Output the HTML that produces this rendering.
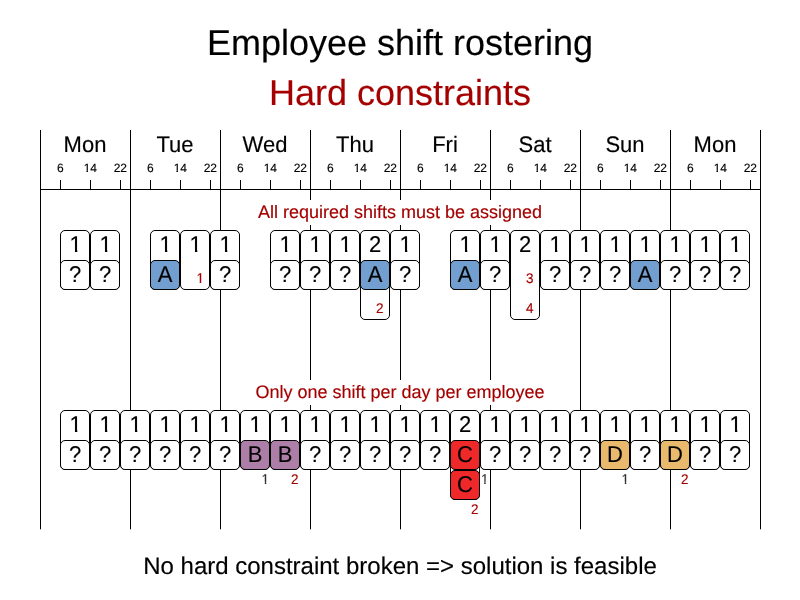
<!DOCTYPE html>
<html lang="en"><head><meta charset="utf-8"><title>Employee shift rostering - Hard constraints</title>
<style>html,body{margin:0;padding:0;background:#fff}svg{display:block}text{font-family:"Liberation Sans",sans-serif;text-rendering:geometricPrecision;stroke-width:0.15px;paint-order:stroke fill}.o22{clip-path:url(#one22)}.o13{clip-path:url(#one13)}.o14{clip-path:url(#one14)}</style>
</head><body>
<svg width="800" height="600" viewBox="0 0 800 600">
<defs>
<clipPath id="one22"><rect x="-20" y="-30" width="40" height="27.66"/><rect x="-0.78" y="-30" width="2.34" height="31"/></clipPath>
<clipPath id="one13"><rect x="-20" y="-30" width="40" height="28.29"/><rect x="-4.31" y="-30" width="1.59" height="31"/></clipPath>
<clipPath id="one14"><rect x="-20" y="-30" width="40" height="28.5"/><rect x="-3.85" y="-30" width="1.46" height="31"/><rect x="0" y="-30" width="20" height="31"/></clipPath>
</defs>
<rect width="800" height="600" fill="#fff"/>
<g transform="translate(400 55.3)"><text font-size="36" text-anchor="middle" stroke="#000">Employee shift rostering</text></g>
<g transform="translate(400 105.3)"><text font-size="36" text-anchor="middle" fill="#a40000" stroke="#a40000">Hard constraints</text></g>
<g stroke="#000" stroke-width="1" fill="none">
<path d="M40.5 130V529.3"/>
<path d="M130.5 130V529.3"/>
<path d="M220.5 130V529.3"/>
<path d="M310.5 130V529.3"/>
<path d="M400.5 130V529.3"/>
<path d="M490.5 130V529.3"/>
<path d="M580.5 130V529.3"/>
<path d="M670.5 130V529.3"/>
<path d="M760.5 130V529.3"/>
<path d="M40 189.5H761"/>
<path d="M60.5 180V189.5"/>
<path d="M90.5 180V189.5"/>
<path d="M120.5 180V189.5"/>
<path d="M150.5 180V189.5"/>
<path d="M180.5 180V189.5"/>
<path d="M210.5 180V189.5"/>
<path d="M240.5 180V189.5"/>
<path d="M270.5 180V189.5"/>
<path d="M300.5 180V189.5"/>
<path d="M330.5 180V189.5"/>
<path d="M360.5 180V189.5"/>
<path d="M390.5 180V189.5"/>
<path d="M420.5 180V189.5"/>
<path d="M450.5 180V189.5"/>
<path d="M480.5 180V189.5"/>
<path d="M510.5 180V189.5"/>
<path d="M540.5 180V189.5"/>
<path d="M570.5 180V189.5"/>
<path d="M600.5 180V189.5"/>
<path d="M630.5 180V189.5"/>
<path d="M660.5 180V189.5"/>
<path d="M690.5 180V189.5"/>
<path d="M720.5 180V189.5"/>
<path d="M750.5 180V189.5"/>
</g>
<g transform="translate(85 152) scale(1 1.02)"><text font-size="22" text-anchor="middle" stroke="#000">Mon</text></g>
<g transform="translate(60.3 172)"><text font-size="12" text-anchor="middle" stroke="#000">6</text></g>
<g transform="translate(90.3 172)"><text class="o14" font-size="12" text-anchor="middle" stroke="#000">14</text></g>
<g transform="translate(120.3 172)"><text font-size="12" text-anchor="middle" stroke="#000">22</text></g>
<g transform="translate(175 152) scale(1 1.02)"><text font-size="22" text-anchor="middle" stroke="#000">Tue</text></g>
<g transform="translate(150.3 172)"><text font-size="12" text-anchor="middle" stroke="#000">6</text></g>
<g transform="translate(180.3 172)"><text class="o14" font-size="12" text-anchor="middle" stroke="#000">14</text></g>
<g transform="translate(210.3 172)"><text font-size="12" text-anchor="middle" stroke="#000">22</text></g>
<g transform="translate(265 152) scale(1 1.02)"><text font-size="22" text-anchor="middle" stroke="#000">Wed</text></g>
<g transform="translate(240.3 172)"><text font-size="12" text-anchor="middle" stroke="#000">6</text></g>
<g transform="translate(270.3 172)"><text class="o14" font-size="12" text-anchor="middle" stroke="#000">14</text></g>
<g transform="translate(300.3 172)"><text font-size="12" text-anchor="middle" stroke="#000">22</text></g>
<g transform="translate(355 152) scale(1 1.02)"><text font-size="22" text-anchor="middle" stroke="#000">Thu</text></g>
<g transform="translate(330.3 172)"><text font-size="12" text-anchor="middle" stroke="#000">6</text></g>
<g transform="translate(360.3 172)"><text class="o14" font-size="12" text-anchor="middle" stroke="#000">14</text></g>
<g transform="translate(390.3 172)"><text font-size="12" text-anchor="middle" stroke="#000">22</text></g>
<g transform="translate(445 152) scale(1 1.02)"><text font-size="22" text-anchor="middle" stroke="#000">Fri</text></g>
<g transform="translate(420.3 172)"><text font-size="12" text-anchor="middle" stroke="#000">6</text></g>
<g transform="translate(450.3 172)"><text class="o14" font-size="12" text-anchor="middle" stroke="#000">14</text></g>
<g transform="translate(480.3 172)"><text font-size="12" text-anchor="middle" stroke="#000">22</text></g>
<g transform="translate(535 152) scale(1 1.02)"><text font-size="22" text-anchor="middle" stroke="#000">Sat</text></g>
<g transform="translate(510.3 172)"><text font-size="12" text-anchor="middle" stroke="#000">6</text></g>
<g transform="translate(540.3 172)"><text class="o14" font-size="12" text-anchor="middle" stroke="#000">14</text></g>
<g transform="translate(570.3 172)"><text font-size="12" text-anchor="middle" stroke="#000">22</text></g>
<g transform="translate(625 152) scale(1 1.02)"><text font-size="22" text-anchor="middle" stroke="#000">Sun</text></g>
<g transform="translate(600.3 172)"><text font-size="12" text-anchor="middle" stroke="#000">6</text></g>
<g transform="translate(630.3 172)"><text class="o14" font-size="12" text-anchor="middle" stroke="#000">14</text></g>
<g transform="translate(660.3 172)"><text font-size="12" text-anchor="middle" stroke="#000">22</text></g>
<g transform="translate(715 152) scale(1 1.02)"><text font-size="22" text-anchor="middle" stroke="#000">Mon</text></g>
<g transform="translate(690.3 172)"><text font-size="12" text-anchor="middle" stroke="#000">6</text></g>
<g transform="translate(720.3 172)"><text class="o14" font-size="12" text-anchor="middle" stroke="#000">14</text></g>
<g transform="translate(750.3 172)"><text font-size="12" text-anchor="middle" stroke="#000">22</text></g>
<rect x="254" y="200" width="292" height="25" fill="#fff"/>
<g transform="translate(400 218)"><text font-size="18" text-anchor="middle" fill="#a40000" stroke="#a40000">All required shifts must be assigned</text></g>
<rect x="252" y="380" width="296" height="25" fill="#fff"/>
<g transform="translate(400 398)"><text font-size="18" text-anchor="middle" fill="#a40000" stroke="#a40000">Only one shift per day per employee</text></g>
<rect x="60.5" y="230.5" width="29" height="59" rx="4.5" ry="4.5" fill="#fff" stroke="#000"/>
<g transform="translate(75.73 252) scale(1 1.04)"><text class="o22" font-size="22" text-anchor="middle" stroke="#000">1</text></g>
<rect x="60.5" y="260.5" width="29" height="29" rx="4.5" ry="4.5" fill="#fff" stroke="#000"/>
<g transform="translate(75 282) scale(1 1.04)"><text font-size="22" text-anchor="middle" stroke="#000">?</text></g>
<rect x="90.5" y="230.5" width="29" height="59" rx="4.5" ry="4.5" fill="#fff" stroke="#000"/>
<g transform="translate(105.73 252) scale(1 1.04)"><text class="o22" font-size="22" text-anchor="middle" stroke="#000">1</text></g>
<rect x="90.5" y="260.5" width="29" height="29" rx="4.5" ry="4.5" fill="#fff" stroke="#000"/>
<g transform="translate(105 282) scale(1 1.04)"><text font-size="22" text-anchor="middle" stroke="#000">?</text></g>
<rect x="150.5" y="230.5" width="29" height="59" rx="4.5" ry="4.5" fill="#fff" stroke="#000"/>
<g transform="translate(165.73 252) scale(1 1.04)"><text class="o22" font-size="22" text-anchor="middle" stroke="#000">1</text></g>
<rect x="150.5" y="260.5" width="29" height="29" rx="4.5" ry="4.5" fill="#729fcf" stroke="#000"/>
<g transform="translate(165 282) scale(1 1.04)"><text font-size="22" text-anchor="middle" stroke="#000">A</text></g>
<rect x="180.5" y="230.5" width="29" height="59" rx="4.5" ry="4.5" fill="#fff" stroke="#000"/>
<g transform="translate(195.73 252) scale(1 1.04)"><text class="o22" font-size="22" text-anchor="middle" stroke="#000">1</text></g>
<g transform="translate(203.95 283.2) scale(1 1.04)"><text class="o13" font-size="13.5" text-anchor="end" fill="#a40000" stroke="#a40000">1</text></g>
<rect x="210.5" y="230.5" width="29" height="59" rx="4.5" ry="4.5" fill="#fff" stroke="#000"/>
<g transform="translate(225.73 252) scale(1 1.04)"><text class="o22" font-size="22" text-anchor="middle" stroke="#000">1</text></g>
<rect x="210.5" y="260.5" width="29" height="29" rx="4.5" ry="4.5" fill="#fff" stroke="#000"/>
<g transform="translate(225 282) scale(1 1.04)"><text font-size="22" text-anchor="middle" stroke="#000">?</text></g>
<rect x="270.5" y="230.5" width="29" height="59" rx="4.5" ry="4.5" fill="#fff" stroke="#000"/>
<g transform="translate(285.73 252) scale(1 1.04)"><text class="o22" font-size="22" text-anchor="middle" stroke="#000">1</text></g>
<rect x="270.5" y="260.5" width="29" height="29" rx="4.5" ry="4.5" fill="#fff" stroke="#000"/>
<g transform="translate(285 282) scale(1 1.04)"><text font-size="22" text-anchor="middle" stroke="#000">?</text></g>
<rect x="300.5" y="230.5" width="29" height="59" rx="4.5" ry="4.5" fill="#fff" stroke="#000"/>
<g transform="translate(315.73 252) scale(1 1.04)"><text class="o22" font-size="22" text-anchor="middle" stroke="#000">1</text></g>
<rect x="300.5" y="260.5" width="29" height="29" rx="4.5" ry="4.5" fill="#fff" stroke="#000"/>
<g transform="translate(315 282) scale(1 1.04)"><text font-size="22" text-anchor="middle" stroke="#000">?</text></g>
<rect x="330.5" y="230.5" width="29" height="59" rx="4.5" ry="4.5" fill="#fff" stroke="#000"/>
<g transform="translate(345.73 252) scale(1 1.04)"><text class="o22" font-size="22" text-anchor="middle" stroke="#000">1</text></g>
<rect x="330.5" y="260.5" width="29" height="29" rx="4.5" ry="4.5" fill="#fff" stroke="#000"/>
<g transform="translate(345 282) scale(1 1.04)"><text font-size="22" text-anchor="middle" stroke="#000">?</text></g>
<rect x="360.5" y="230.5" width="29" height="89" rx="4.5" ry="4.5" fill="#fff" stroke="#000"/>
<g transform="translate(375 252) scale(1 1.04)"><text font-size="22" text-anchor="middle" stroke="#000">2</text></g>
<rect x="360.5" y="260.5" width="29" height="29" rx="4.5" ry="4.5" fill="#729fcf" stroke="#000"/>
<g transform="translate(375 282) scale(1 1.04)"><text font-size="22" text-anchor="middle" stroke="#000">A</text></g>
<g transform="translate(383.5 313.2) scale(1 1.04)"><text font-size="13.5" text-anchor="end" fill="#a40000" stroke="#a40000">2</text></g>
<rect x="390.5" y="230.5" width="29" height="59" rx="4.5" ry="4.5" fill="#fff" stroke="#000"/>
<g transform="translate(405.73 252) scale(1 1.04)"><text class="o22" font-size="22" text-anchor="middle" stroke="#000">1</text></g>
<rect x="390.5" y="260.5" width="29" height="29" rx="4.5" ry="4.5" fill="#fff" stroke="#000"/>
<g transform="translate(405 282) scale(1 1.04)"><text font-size="22" text-anchor="middle" stroke="#000">?</text></g>
<rect x="450.5" y="230.5" width="29" height="59" rx="4.5" ry="4.5" fill="#fff" stroke="#000"/>
<g transform="translate(465.73 252) scale(1 1.04)"><text class="o22" font-size="22" text-anchor="middle" stroke="#000">1</text></g>
<rect x="450.5" y="260.5" width="29" height="29" rx="4.5" ry="4.5" fill="#729fcf" stroke="#000"/>
<g transform="translate(465 282) scale(1 1.04)"><text font-size="22" text-anchor="middle" stroke="#000">A</text></g>
<rect x="480.5" y="230.5" width="29" height="59" rx="4.5" ry="4.5" fill="#fff" stroke="#000"/>
<g transform="translate(495.73 252) scale(1 1.04)"><text class="o22" font-size="22" text-anchor="middle" stroke="#000">1</text></g>
<rect x="480.5" y="260.5" width="29" height="29" rx="4.5" ry="4.5" fill="#fff" stroke="#000"/>
<g transform="translate(495 282) scale(1 1.04)"><text font-size="22" text-anchor="middle" stroke="#000">?</text></g>
<rect x="510.5" y="230.5" width="29" height="89" rx="4.5" ry="4.5" fill="#fff" stroke="#000"/>
<g transform="translate(525 252) scale(1 1.04)"><text font-size="22" text-anchor="middle" stroke="#000">2</text></g>
<g transform="translate(533.5 283.2) scale(1 1.04)"><text font-size="13.5" text-anchor="end" fill="#a40000" stroke="#a40000">3</text></g>
<g transform="translate(533.5 313.2) scale(1 1.04)"><text font-size="13.5" text-anchor="end" fill="#a40000" stroke="#a40000">4</text></g>
<rect x="540.5" y="230.5" width="29" height="59" rx="4.5" ry="4.5" fill="#fff" stroke="#000"/>
<g transform="translate(555.73 252) scale(1 1.04)"><text class="o22" font-size="22" text-anchor="middle" stroke="#000">1</text></g>
<rect x="540.5" y="260.5" width="29" height="29" rx="4.5" ry="4.5" fill="#fff" stroke="#000"/>
<g transform="translate(555 282) scale(1 1.04)"><text font-size="22" text-anchor="middle" stroke="#000">?</text></g>
<rect x="570.5" y="230.5" width="29" height="59" rx="4.5" ry="4.5" fill="#fff" stroke="#000"/>
<g transform="translate(585.73 252) scale(1 1.04)"><text class="o22" font-size="22" text-anchor="middle" stroke="#000">1</text></g>
<rect x="570.5" y="260.5" width="29" height="29" rx="4.5" ry="4.5" fill="#fff" stroke="#000"/>
<g transform="translate(585 282) scale(1 1.04)"><text font-size="22" text-anchor="middle" stroke="#000">?</text></g>
<rect x="600.5" y="230.5" width="29" height="59" rx="4.5" ry="4.5" fill="#fff" stroke="#000"/>
<g transform="translate(615.73 252) scale(1 1.04)"><text class="o22" font-size="22" text-anchor="middle" stroke="#000">1</text></g>
<rect x="600.5" y="260.5" width="29" height="29" rx="4.5" ry="4.5" fill="#fff" stroke="#000"/>
<g transform="translate(615 282) scale(1 1.04)"><text font-size="22" text-anchor="middle" stroke="#000">?</text></g>
<rect x="630.5" y="230.5" width="29" height="59" rx="4.5" ry="4.5" fill="#fff" stroke="#000"/>
<g transform="translate(645.73 252) scale(1 1.04)"><text class="o22" font-size="22" text-anchor="middle" stroke="#000">1</text></g>
<rect x="630.5" y="260.5" width="29" height="29" rx="4.5" ry="4.5" fill="#729fcf" stroke="#000"/>
<g transform="translate(645 282) scale(1 1.04)"><text font-size="22" text-anchor="middle" stroke="#000">A</text></g>
<rect x="660.5" y="230.5" width="29" height="59" rx="4.5" ry="4.5" fill="#fff" stroke="#000"/>
<g transform="translate(675.73 252) scale(1 1.04)"><text class="o22" font-size="22" text-anchor="middle" stroke="#000">1</text></g>
<rect x="660.5" y="260.5" width="29" height="29" rx="4.5" ry="4.5" fill="#fff" stroke="#000"/>
<g transform="translate(675 282) scale(1 1.04)"><text font-size="22" text-anchor="middle" stroke="#000">?</text></g>
<rect x="690.5" y="230.5" width="29" height="59" rx="4.5" ry="4.5" fill="#fff" stroke="#000"/>
<g transform="translate(705.73 252) scale(1 1.04)"><text class="o22" font-size="22" text-anchor="middle" stroke="#000">1</text></g>
<rect x="690.5" y="260.5" width="29" height="29" rx="4.5" ry="4.5" fill="#fff" stroke="#000"/>
<g transform="translate(705 282) scale(1 1.04)"><text font-size="22" text-anchor="middle" stroke="#000">?</text></g>
<rect x="720.5" y="230.5" width="29" height="59" rx="4.5" ry="4.5" fill="#fff" stroke="#000"/>
<g transform="translate(735.73 252) scale(1 1.04)"><text class="o22" font-size="22" text-anchor="middle" stroke="#000">1</text></g>
<rect x="720.5" y="260.5" width="29" height="29" rx="4.5" ry="4.5" fill="#fff" stroke="#000"/>
<g transform="translate(735 282) scale(1 1.04)"><text font-size="22" text-anchor="middle" stroke="#000">?</text></g>
<rect x="60.5" y="410.5" width="29" height="59" rx="4.5" ry="4.5" fill="#fff" stroke="#000"/>
<g transform="translate(75.73 432) scale(1 1.04)"><text class="o22" font-size="22" text-anchor="middle" stroke="#000">1</text></g>
<rect x="60.5" y="440.5" width="29" height="29" rx="4.5" ry="4.5" fill="#fff" stroke="#000"/>
<g transform="translate(75 462) scale(1 1.04)"><text font-size="22" text-anchor="middle" stroke="#000">?</text></g>
<rect x="90.5" y="410.5" width="29" height="59" rx="4.5" ry="4.5" fill="#fff" stroke="#000"/>
<g transform="translate(105.73 432) scale(1 1.04)"><text class="o22" font-size="22" text-anchor="middle" stroke="#000">1</text></g>
<rect x="90.5" y="440.5" width="29" height="29" rx="4.5" ry="4.5" fill="#fff" stroke="#000"/>
<g transform="translate(105 462) scale(1 1.04)"><text font-size="22" text-anchor="middle" stroke="#000">?</text></g>
<rect x="120.5" y="410.5" width="29" height="59" rx="4.5" ry="4.5" fill="#fff" stroke="#000"/>
<g transform="translate(135.73 432) scale(1 1.04)"><text class="o22" font-size="22" text-anchor="middle" stroke="#000">1</text></g>
<rect x="120.5" y="440.5" width="29" height="29" rx="4.5" ry="4.5" fill="#fff" stroke="#000"/>
<g transform="translate(135 462) scale(1 1.04)"><text font-size="22" text-anchor="middle" stroke="#000">?</text></g>
<rect x="150.5" y="410.5" width="29" height="59" rx="4.5" ry="4.5" fill="#fff" stroke="#000"/>
<g transform="translate(165.73 432) scale(1 1.04)"><text class="o22" font-size="22" text-anchor="middle" stroke="#000">1</text></g>
<rect x="150.5" y="440.5" width="29" height="29" rx="4.5" ry="4.5" fill="#fff" stroke="#000"/>
<g transform="translate(165 462) scale(1 1.04)"><text font-size="22" text-anchor="middle" stroke="#000">?</text></g>
<rect x="180.5" y="410.5" width="29" height="59" rx="4.5" ry="4.5" fill="#fff" stroke="#000"/>
<g transform="translate(195.73 432) scale(1 1.04)"><text class="o22" font-size="22" text-anchor="middle" stroke="#000">1</text></g>
<rect x="180.5" y="440.5" width="29" height="29" rx="4.5" ry="4.5" fill="#fff" stroke="#000"/>
<g transform="translate(195 462) scale(1 1.04)"><text font-size="22" text-anchor="middle" stroke="#000">?</text></g>
<rect x="210.5" y="410.5" width="29" height="59" rx="4.5" ry="4.5" fill="#fff" stroke="#000"/>
<g transform="translate(225.73 432) scale(1 1.04)"><text class="o22" font-size="22" text-anchor="middle" stroke="#000">1</text></g>
<rect x="210.5" y="440.5" width="29" height="29" rx="4.5" ry="4.5" fill="#fff" stroke="#000"/>
<g transform="translate(225 462) scale(1 1.04)"><text font-size="22" text-anchor="middle" stroke="#000">?</text></g>
<rect x="240.5" y="410.5" width="29" height="59" rx="4.5" ry="4.5" fill="#fff" stroke="#000"/>
<g transform="translate(255.73 432) scale(1 1.04)"><text class="o22" font-size="22" text-anchor="middle" stroke="#000">1</text></g>
<rect x="240.5" y="440.5" width="29" height="29" rx="4.5" ry="4.5" fill="#ad7fa8" stroke="#000"/>
<g transform="translate(255 462) scale(1 1.04)"><text font-size="22" text-anchor="middle" stroke="#000">B</text></g>
<rect x="270.5" y="410.5" width="29" height="59" rx="4.5" ry="4.5" fill="#fff" stroke="#000"/>
<g transform="translate(285.73 432) scale(1 1.04)"><text class="o22" font-size="22" text-anchor="middle" stroke="#000">1</text></g>
<rect x="270.5" y="440.5" width="29" height="29" rx="4.5" ry="4.5" fill="#ad7fa8" stroke="#000"/>
<g transform="translate(285 462) scale(1 1.04)"><text font-size="22" text-anchor="middle" stroke="#000">B</text></g>
<rect x="300.5" y="410.5" width="29" height="59" rx="4.5" ry="4.5" fill="#fff" stroke="#000"/>
<g transform="translate(315.73 432) scale(1 1.04)"><text class="o22" font-size="22" text-anchor="middle" stroke="#000">1</text></g>
<rect x="300.5" y="440.5" width="29" height="29" rx="4.5" ry="4.5" fill="#fff" stroke="#000"/>
<g transform="translate(315 462) scale(1 1.04)"><text font-size="22" text-anchor="middle" stroke="#000">?</text></g>
<rect x="330.5" y="410.5" width="29" height="59" rx="4.5" ry="4.5" fill="#fff" stroke="#000"/>
<g transform="translate(345.73 432) scale(1 1.04)"><text class="o22" font-size="22" text-anchor="middle" stroke="#000">1</text></g>
<rect x="330.5" y="440.5" width="29" height="29" rx="4.5" ry="4.5" fill="#fff" stroke="#000"/>
<g transform="translate(345 462) scale(1 1.04)"><text font-size="22" text-anchor="middle" stroke="#000">?</text></g>
<rect x="360.5" y="410.5" width="29" height="59" rx="4.5" ry="4.5" fill="#fff" stroke="#000"/>
<g transform="translate(375.73 432) scale(1 1.04)"><text class="o22" font-size="22" text-anchor="middle" stroke="#000">1</text></g>
<rect x="360.5" y="440.5" width="29" height="29" rx="4.5" ry="4.5" fill="#fff" stroke="#000"/>
<g transform="translate(375 462) scale(1 1.04)"><text font-size="22" text-anchor="middle" stroke="#000">?</text></g>
<rect x="390.5" y="410.5" width="29" height="59" rx="4.5" ry="4.5" fill="#fff" stroke="#000"/>
<g transform="translate(405.73 432) scale(1 1.04)"><text class="o22" font-size="22" text-anchor="middle" stroke="#000">1</text></g>
<rect x="390.5" y="440.5" width="29" height="29" rx="4.5" ry="4.5" fill="#fff" stroke="#000"/>
<g transform="translate(405 462) scale(1 1.04)"><text font-size="22" text-anchor="middle" stroke="#000">?</text></g>
<rect x="420.5" y="410.5" width="29" height="59" rx="4.5" ry="4.5" fill="#fff" stroke="#000"/>
<g transform="translate(435.73 432) scale(1 1.04)"><text class="o22" font-size="22" text-anchor="middle" stroke="#000">1</text></g>
<rect x="420.5" y="440.5" width="29" height="29" rx="4.5" ry="4.5" fill="#fff" stroke="#000"/>
<g transform="translate(435 462) scale(1 1.04)"><text font-size="22" text-anchor="middle" stroke="#000">?</text></g>
<rect x="450.5" y="410.5" width="29" height="89" rx="4.5" ry="4.5" fill="#fff" stroke="#000"/>
<g transform="translate(465 432) scale(1 1.04)"><text font-size="22" text-anchor="middle" stroke="#000">2</text></g>
<rect x="450.5" y="440.5" width="29" height="29" rx="4.5" ry="4.5" fill="#ef2929" stroke="#000"/>
<g transform="translate(465 462) scale(1 1.04)"><text font-size="22" text-anchor="middle" stroke="#000">C</text></g>
<rect x="450.5" y="470.5" width="29" height="29" rx="4.5" ry="4.5" fill="#ef2929" stroke="#000"/>
<g transform="translate(465 492) scale(1 1.04)"><text font-size="22" text-anchor="middle" stroke="#000">C</text></g>
<rect x="480.5" y="410.5" width="29" height="59" rx="4.5" ry="4.5" fill="#fff" stroke="#000"/>
<g transform="translate(495.73 432) scale(1 1.04)"><text class="o22" font-size="22" text-anchor="middle" stroke="#000">1</text></g>
<rect x="480.5" y="440.5" width="29" height="29" rx="4.5" ry="4.5" fill="#fff" stroke="#000"/>
<g transform="translate(495 462) scale(1 1.04)"><text font-size="22" text-anchor="middle" stroke="#000">?</text></g>
<rect x="510.5" y="410.5" width="29" height="59" rx="4.5" ry="4.5" fill="#fff" stroke="#000"/>
<g transform="translate(525.73 432) scale(1 1.04)"><text class="o22" font-size="22" text-anchor="middle" stroke="#000">1</text></g>
<rect x="510.5" y="440.5" width="29" height="29" rx="4.5" ry="4.5" fill="#fff" stroke="#000"/>
<g transform="translate(525 462) scale(1 1.04)"><text font-size="22" text-anchor="middle" stroke="#000">?</text></g>
<rect x="540.5" y="410.5" width="29" height="59" rx="4.5" ry="4.5" fill="#fff" stroke="#000"/>
<g transform="translate(555.73 432) scale(1 1.04)"><text class="o22" font-size="22" text-anchor="middle" stroke="#000">1</text></g>
<rect x="540.5" y="440.5" width="29" height="29" rx="4.5" ry="4.5" fill="#fff" stroke="#000"/>
<g transform="translate(555 462) scale(1 1.04)"><text font-size="22" text-anchor="middle" stroke="#000">?</text></g>
<rect x="570.5" y="410.5" width="29" height="59" rx="4.5" ry="4.5" fill="#fff" stroke="#000"/>
<g transform="translate(585.73 432) scale(1 1.04)"><text class="o22" font-size="22" text-anchor="middle" stroke="#000">1</text></g>
<rect x="570.5" y="440.5" width="29" height="29" rx="4.5" ry="4.5" fill="#fff" stroke="#000"/>
<g transform="translate(585 462) scale(1 1.04)"><text font-size="22" text-anchor="middle" stroke="#000">?</text></g>
<rect x="600.5" y="410.5" width="29" height="59" rx="4.5" ry="4.5" fill="#fff" stroke="#000"/>
<g transform="translate(615.73 432) scale(1 1.04)"><text class="o22" font-size="22" text-anchor="middle" stroke="#000">1</text></g>
<rect x="600.5" y="440.5" width="29" height="29" rx="4.5" ry="4.5" fill="#e9b96e" stroke="#000"/>
<g transform="translate(615 462) scale(1 1.04)"><text font-size="22" text-anchor="middle" stroke="#000">D</text></g>
<rect x="630.5" y="410.5" width="29" height="59" rx="4.5" ry="4.5" fill="#fff" stroke="#000"/>
<g transform="translate(645.73 432) scale(1 1.04)"><text class="o22" font-size="22" text-anchor="middle" stroke="#000">1</text></g>
<rect x="630.5" y="440.5" width="29" height="29" rx="4.5" ry="4.5" fill="#fff" stroke="#000"/>
<g transform="translate(645 462) scale(1 1.04)"><text font-size="22" text-anchor="middle" stroke="#000">?</text></g>
<rect x="660.5" y="410.5" width="29" height="59" rx="4.5" ry="4.5" fill="#fff" stroke="#000"/>
<g transform="translate(675.73 432) scale(1 1.04)"><text class="o22" font-size="22" text-anchor="middle" stroke="#000">1</text></g>
<rect x="660.5" y="440.5" width="29" height="29" rx="4.5" ry="4.5" fill="#e9b96e" stroke="#000"/>
<g transform="translate(675 462) scale(1 1.04)"><text font-size="22" text-anchor="middle" stroke="#000">D</text></g>
<rect x="690.5" y="410.5" width="29" height="59" rx="4.5" ry="4.5" fill="#fff" stroke="#000"/>
<g transform="translate(705.73 432) scale(1 1.04)"><text class="o22" font-size="22" text-anchor="middle" stroke="#000">1</text></g>
<rect x="690.5" y="440.5" width="29" height="29" rx="4.5" ry="4.5" fill="#fff" stroke="#000"/>
<g transform="translate(705 462) scale(1 1.04)"><text font-size="22" text-anchor="middle" stroke="#000">?</text></g>
<rect x="720.5" y="410.5" width="29" height="59" rx="4.5" ry="4.5" fill="#fff" stroke="#000"/>
<g transform="translate(735.73 432) scale(1 1.04)"><text class="o22" font-size="22" text-anchor="middle" stroke="#000">1</text></g>
<rect x="720.5" y="440.5" width="29" height="29" rx="4.5" ry="4.5" fill="#fff" stroke="#000"/>
<g transform="translate(735 462) scale(1 1.04)"><text font-size="22" text-anchor="middle" stroke="#000">?</text></g>
<g transform="translate(269.05 483.6) scale(1 1.04)"><text class="o13" font-size="13.5" text-anchor="end" fill="#2e3436" stroke="#2e3436">1</text></g>
<g transform="translate(298.6 483.6) scale(1 1.04)"><text font-size="13.5" text-anchor="end" fill="#a40000" stroke="#a40000">2</text></g>
<g transform="translate(629.05 483.6) scale(1 1.04)"><text class="o13" font-size="13.5" text-anchor="end" fill="#2e3436" stroke="#2e3436">1</text></g>
<g transform="translate(688.6 483.6) scale(1 1.04)"><text font-size="13.5" text-anchor="end" fill="#a40000" stroke="#a40000">2</text></g>
<g transform="translate(488.45 483.6) scale(1 1.04)"><text class="o13" font-size="13.5" text-anchor="end" fill="#2e3436" stroke="#2e3436">1</text></g>
<g transform="translate(478.5 513.6) scale(1 1.04)"><text font-size="13.5" text-anchor="end" fill="#a40000" stroke="#a40000">2</text></g>
<g transform="translate(400 574.2)"><text font-size="24" text-anchor="middle" stroke="#000">No hard constraint broken =&gt; solution is feasible</text></g>
</svg></body></html>
